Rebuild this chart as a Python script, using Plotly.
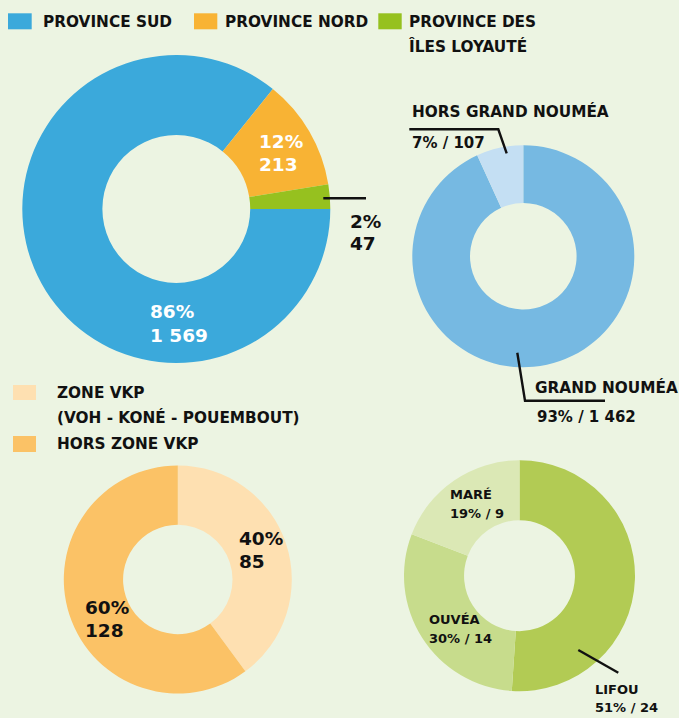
import plotly.graph_objects as go

# ---------------- data ----------------
province_labels = ["PROVINCE SUD", "PROVINCE NORD", "PROVINCE DES ÎLES LOYAUTÉ"]
province_values = [1569, 213, 47]
province_pct = ["86%", "12%", "2%"]

sud_labels = ["GRAND NOUMÉA", "HORS GRAND NOUMÉA"]
sud_values = [1462, 107]
sud_pct = ["93%", "7%"]

nord_labels = ["ZONE VKP", "HORS ZONE VKP"]
nord_sub = "(VOH - KONÉ - POUEMBOUT)"
nord_values = [85, 128]
nord_pct = ["40%", "60%"]

iles_labels = ["LIFOU", "OUVÉA", "MARÉ"]
iles_values = [24, 14, 9]
iles_pct = ["51%", "30%", "19%"]

# ---------------- style ----------------
W, H = 679, 718
BG = "#ecf4e2"
FONT = "DejaVu Sans"
INK = "#111111"
province_colors = ["#3ba9db", "#f8b334", "#96c11f"]
sud_colors = ["#76b9e2", "#c4dff3"]
nord_colors = ["#fee0b1", "#fbc266"]
iles_colors = ["#b2cb54", "#c7dc8c", "#dbe8b5"]


def X(px):
    return px / W


def Y(py):
    return 1 - py / H


def fmt(v):
    return f"{v:,}".replace(",", " ")


def domain(cx, cy, r):
    return dict(x=[X(cx - r), X(cx + r)], y=[Y(cy + r), Y(cy - r)])


fig = go.Figure()


def donut(labels, values, colors, cx, cy, r, rotation):
    fig.add_trace(go.Pie(
        labels=labels, values=values, hole=0.48, sort=False,
        direction="clockwise", rotation=rotation,
        marker=dict(colors=colors, line=dict(width=0)),
        textinfo="none", hoverinfo="label+value+percent",
        showlegend=False, domain=domain(cx, cy, r),
    ))


donut(province_labels, province_values, province_colors, 176.3, 209, 154, 90)
donut(sud_labels, sud_values, sud_colors, 523.3, 256.3, 111, 0)
donut(nord_labels, nord_values, nord_colors, 177.8, 579.5, 114, 0)
donut(iles_labels, iles_values, iles_colors, 519.5, 575.7, 115.5, 0)

annotations = []


def txt(s, x, y, size=15.3, color=INK):
    annotations.append(dict(
        text=s, x=X(x), y=Y(y), xref="paper", yref="paper",
        xanchor="left", yanchor="middle", showarrow=False,
        font=dict(family=FONT, size=size, color=color, weight="bold"),
    ))


shapes = []


def rect(x0, y0, x1, y1, color):
    shapes.append(dict(type="rect", xref="paper", yref="paper",
                       x0=X(x0), x1=X(x1), y0=Y(y1), y1=Y(y0),
                       fillcolor=color, line=dict(width=0)))


def path(points):
    d = "M " + " L ".join(f"{X(px)},{Y(py)}" for px, py in points)
    shapes.append(dict(type="path", xref="paper", yref="paper", path=d,
                       line=dict(color=INK, width=2.4)))


# legend top
rect(8, 13.3, 31.7, 29.3, province_colors[0])
txt(province_labels[0], 41, 21.7)
rect(194, 13.3, 217.3, 29.3, province_colors[1])
txt(province_labels[1], 223.3, 21.7)
rect(378.3, 13.3, 401.7, 29.3, province_colors[2])
txt("PROVINCE DES", 407.3, 21.7)
txt("ÎLES LOYAUTÉ", 407.3, 46.7)

# chart 1 labels
BIG = 18.5
txt(province_pct[1], 256.7, 141.7, BIG, "white")
txt(fmt(province_values[1]), 256.7, 165, BIG, "white")
txt(province_pct[0], 147.7, 311.7, BIG, "white")
txt(fmt(province_values[0]), 148.3, 335, BIG, "white")
txt(province_pct[2], 348.3, 221.7, BIG)
txt(fmt(province_values[2]), 348.3, 244, BIG)
path([(323.3, 198.3), (366, 198.3)])

# chart 2 labels
txt(sud_labels[1], 410, 111.7)
txt(f"{sud_pct[1]} / {fmt(sud_values[1])}", 410, 142.7, 15)
path([(409.3, 129.3), (498.3, 129.3), (506.7, 153.3)])
txt(sud_labels[0], 533.3, 387.3)
txt(f"{sud_pct[0]} / {fmt(sud_values[0])}", 535, 417.3, 15)
path([(517.3, 352.7), (525, 400.7), (605, 400.7)])

# legend chart 3
rect(13, 385, 36, 400, nord_colors[0])
txt(nord_labels[0], 55, 393.3)
txt(nord_sub, 55, 417.7)
rect(13, 436, 36, 452, nord_colors[1])
txt(nord_labels[1], 55, 444)

# chart 3 labels
txt(nord_pct[0], 237.3, 538, BIG)
txt(fmt(nord_values[0]), 237.3, 561, BIG)
txt(nord_pct[1], 83.3, 607.7, BIG)
txt(fmt(nord_values[1]), 83.3, 630.7, BIG)

# chart 4 labels
SM = 13
txt(iles_labels[2], 447.7, 494.3, SM)
txt(f"{iles_pct[2]} / {iles_values[2]}", 447.7, 513.3, SM)
txt(iles_labels[1], 426.7, 619.3, SM)
txt(f"{iles_pct[1]} / {iles_values[1]}", 426.7, 638.3, SM)
txt(iles_labels[0], 592.7, 689.3, SM)
txt(f"{iles_pct[0]} / {iles_values[0]}", 592.7, 707.7, SM)
path([(578.3, 650), (618.3, 672.7)])

fig.update_layout(
    width=W, height=H,
    margin=dict(l=0, r=0, t=0, b=0),
    paper_bgcolor=BG, plot_bgcolor=BG,
    annotations=annotations, shapes=shapes,
    showlegend=False,
)

fig.write_html(
    "out.html",
    config={"displayModeBar": False},
    post_script="document.body.style.margin='0px';document.body.style.overflow='hidden';"
                "document.body.style.background='" + BG + "';",
)
